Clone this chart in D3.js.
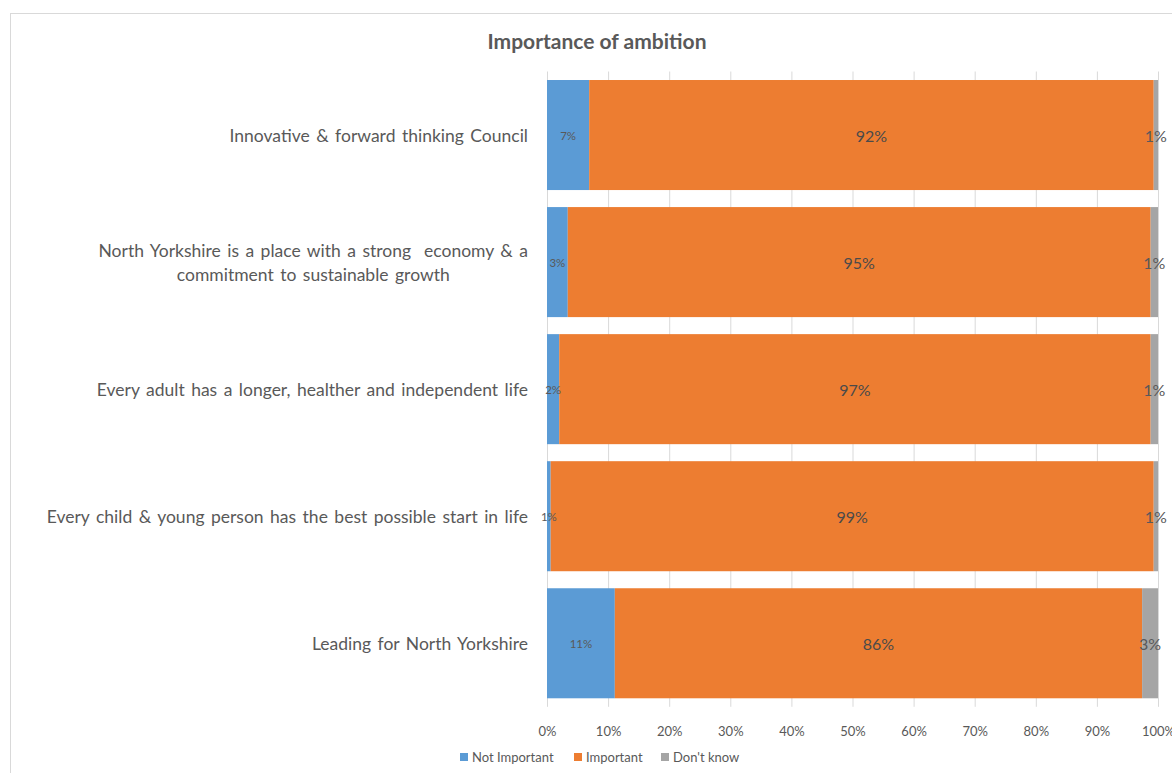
<!DOCTYPE html>
<html>
<head>
<meta charset="utf-8">
<script src="https://cdn.jsdelivr.net/npm/d3@7"></script>
<style>
  html, body { margin: 0; padding: 0; background: #fff; }
  svg { display: block; font-family: Lato, "Open Sans", sans-serif; }
</style>
</head>
<body>
<svg id="chart" width="1172" height="773"></svg>
<script>
// Survey responses: share of respondents per ambition
const categories = [
  "Innovative & forward thinking Council",
  "North Yorkshire is a place with a strong  economy & a\ncommitment to sustainable growth",
  "Every adult has a longer, healther and independent life",
  "Every child & young person has the best possible start in life",
  "Leading for North Yorkshire"
];
const seriesNames = ["Not Important", "Important", "Don't know"];
const notImportant = [0.069, 0.034, 0.020, 0.006, 0.111];
const important    = [0.924, 0.954, 0.968, 0.987, 0.863];
const dontKnow     = [0.007, 0.012, 0.012, 0.007, 0.026];
const xTicks = [0, 0.1, 0.2, 0.3, 0.4, 0.5, 0.6, 0.7, 0.8, 0.9, 1.0];
const colors = ["#5B9BD5", "#ED7D31", "#A5A5A5"];

const rows = categories.map((c, i) => ({
  category: c,
  "Not Important": notImportant[i],
  "Important": important[i],
  "Don't know": dontKnow[i]
}));

const svg = d3.select("#chart");
const textColor = "#595959";

// chart frame
svg.append("rect")
  .attr("x", 10.5).attr("y", 13.5)
  .attr("width", 1200).attr("height", 800)
  .attr("fill", "#fff").attr("stroke", "#d9d9d9").attr("stroke-width", 1);

const x = d3.scaleLinear().domain([0, 1]).range([547, 1158]);
const y = d3.scaleBand().domain(categories)
  .range([71.5, 706.8]).paddingInner(0.134).paddingOuter(0.067);

// vertical gridlines
const grid = svg.append("g")
  .attr("transform", `translate(0,${y.range()[1]})`)
  .call(d3.axisBottom(x).tickValues(xTicks)
    .tickSize(-(y.range()[1] - y.range()[0])).tickFormat(""));
grid.select(".domain").remove();
grid.selectAll("line").attr("stroke", "#d9d9d9");

// percentage axis labels
const xAxis = svg.append("g")
  .attr("transform", "translate(0,724)")
  .call(d3.axisBottom(x).tickValues(xTicks).tickSize(0).tickFormat(d3.format(".0%")));
xAxis.select(".domain").remove();
xAxis.selectAll("text")
  .attr("fill", textColor).attr("font-size", 13)
  .attr("font-family", "Lato, sans-serif");

// stacked bars
const stack = d3.stack().keys(seriesNames);
const layers = stack(rows);
layers.forEach(layer => layer.forEach(v => { v.key = layer.key; }));

svg.append("g").selectAll("g")
  .data(layers).join("g")
  .attr("fill", (d, i) => colors[i])
  .selectAll("rect")
  .data(d => d)
  .join("rect")
  .attr("x", d => x(d[0]))
  .attr("y", d => y(d.data.category))
  .attr("width", d => x(d[1]) - x(d[0]))
  .attr("height", y.bandwidth());

// value labels centred on each segment, drawn above all bars
const pct = d3.format(".0%");
const labelSize = { "Not Important": 11.5, "Important": 16, "Don't know": 16 };
svg.append("g").selectAll("text")
  .data(layers.flat())
  .join("text")
  .attr("x", d => (x(d[0]) + x(d[1])) / 2)
  .attr("y", d => y(d.data.category) + y.bandwidth() / 2)
  .attr("text-anchor", "middle")
  .attr("dominant-baseline", "central")
  .attr("font-size", d => labelSize[d.key])
  .attr("fill", d => d.key === "Important" ? "#4a4a4a" : textColor)
  .text(d => pct(d[1] - d[0]));

// category labels (right-aligned, multi-line labels centred on their block)
const catG = svg.append("g");
categories.forEach(c => {
  const lines = c.split("\n");
  const cy = y(c) + y.bandwidth() / 2;
  const lh = 24;
  const t = catG.append("text")
    .attr("fill", textColor).attr("font-size", 17.5)
    .style("white-space", "pre")
    .style("word-spacing", "2px");
  lines.forEach((ln, i) => {
    t.append("tspan")
      .attr("y", cy + (i - (lines.length - 1) / 2) * lh)
      .attr("dominant-baseline", "central")
      .text(ln);
  });
  const spans = t.selectAll("tspan").nodes();
  const maxW = d3.max(spans, n => n.getComputedTextLength());
  const right = 528;
  t.selectAll("tspan")
    .attr("x", right - maxW / 2)
    .attr("text-anchor", "middle");
});

// title
svg.append("text")
  .attr("x", 597).attr("y", 40)
  .attr("text-anchor", "middle").attr("dominant-baseline", "central")
  .attr("font-size", 21).attr("font-weight", "bold")
  .attr("fill", textColor)
  .text("Importance of ambition");

// legend
const legend = svg.append("g").attr("transform", "translate(0,757)");
const legendX = [460, 574, 661];
seriesNames.forEach((s, i) => {
  const g = legend.append("g").attr("transform", `translate(${legendX[i]},0)`);
  g.append("rect").attr("x", 0).attr("y", -4).attr("width", 8).attr("height", 8)
    .attr("fill", colors[i]);
  g.append("text").attr("x", 12).attr("y", 0)
    .attr("dominant-baseline", "central")
    .attr("font-size", 13).attr("fill", textColor)
    .text(s);
});
</script>
</body>
</html>
